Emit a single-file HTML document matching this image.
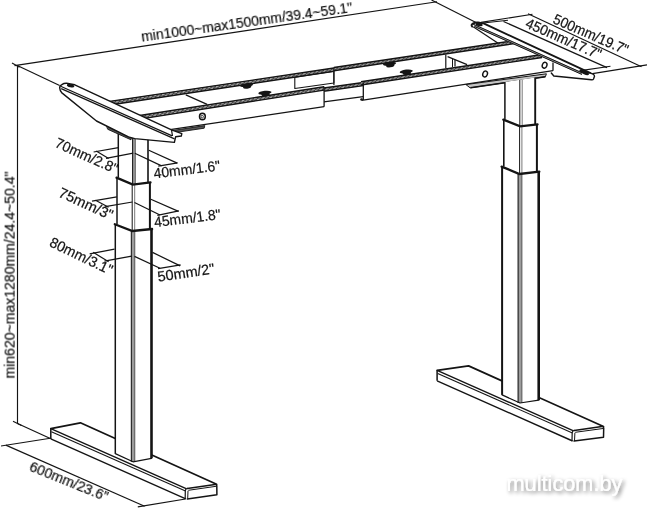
<!DOCTYPE html>
<html lang="en">
<head>
<meta charset="utf-8">
<title>Desk frame dimensions</title>
<style>
html,body{margin:0;padding:0;background:#fff;}
body{width:647px;height:508px;overflow:hidden;}
svg{display:block;}
svg text{font-family:"Liberation Sans","DejaVu Sans",sans-serif;}
</style>
</head>
<body>
<svg width="647" height="508" viewBox="0 0 647 508">
<defs>
<filter id="wm" x="-10%" y="-40%" width="125%" height="200%">
<feGaussianBlur in="SourceAlpha" stdDeviation="2.2" result="b"/>
<feOffset in="b" dx="1.5" dy="2" result="o"/>
<feComponentTransfer in="o" result="s"><feFuncA type="linear" slope="0.55"/></feComponentTransfer>
<feMerge><feMergeNode in="s"/><feMergeNode in="SourceGraphic"/></feMerge>
</filter>
</defs>
<rect width="647" height="508" fill="#fff"/>
<line x1="14.5" y1="65.6" x2="437.0" y2="1.8" stroke="#141414" stroke-width="1.15" stroke-linecap="butt"/>
<line x1="12.0" y1="63.0" x2="19.5" y2="67.2" stroke="#141414" stroke-width="1.15" stroke-linecap="butt"/>
<line x1="17.5" y1="65.2" x2="17.5" y2="423.5" stroke="#141414" stroke-width="1.15" stroke-linecap="butt"/>
<line x1="13.0" y1="421.3" x2="21.5" y2="425.6" stroke="#141414" stroke-width="1.15" stroke-linecap="butt"/>
<line x1="17.3" y1="65.6" x2="59.6" y2="85.6" stroke="#141414" stroke-width="1.15" stroke-linecap="butt"/>
<line x1="431.5" y1="0.0" x2="476.5" y2="22.8" stroke="#141414" stroke-width="1.15" stroke-linecap="butt"/>
<line x1="17.5" y1="423.5" x2="50.3" y2="438.6" stroke="#141414" stroke-width="1.15" stroke-linecap="butt"/>
<line x1="1.0" y1="446.0" x2="50.3" y2="438.3" stroke="#141414" stroke-width="1.15" stroke-linecap="butt"/>
<line x1="5.8" y1="445.1" x2="144.6" y2="506.3" stroke="#141414" stroke-width="1.15" stroke-linecap="butt"/>
<line x1="137.8" y1="506.9" x2="185.5" y2="499.0" stroke="#141414" stroke-width="1.15" stroke-linecap="butt"/>
<line x1="481.0" y1="22.4" x2="532.5" y2="14.2" stroke="#141414" stroke-width="1.15" stroke-linecap="butt"/>
<line x1="528.0" y1="13.8" x2="641.5" y2="66.8" stroke="#141414" stroke-width="1.15" stroke-linecap="butt"/>
<line x1="592.5" y1="73.6" x2="647.0" y2="64.8" stroke="#141414" stroke-width="1.15" stroke-linecap="butt"/>
<line x1="483.0" y1="23.0" x2="508.0" y2="20.2" stroke="#141414" stroke-width="1.15" stroke-linecap="butt"/>
<line x1="503.5" y1="21.5" x2="607.0" y2="67.6" stroke="#141414" stroke-width="1.15" stroke-linecap="butt"/>
<line x1="580.5" y1="70.6" x2="610.5" y2="66.3" stroke="#141414" stroke-width="1.15" stroke-linecap="butt"/>
<line x1="472.4" y1="26.2" x2="498.5" y2="43.4" stroke="#141414" stroke-width="1.20" stroke-linecap="butt"/>
<polygon points="294.8,77.2 294.8,88.5 333.9,83.0 333.9,71.3" fill="#fff" stroke="#141414" stroke-width="1.10" stroke-linejoin="round" stroke-linecap="round"/>
<polygon points="108.0,101.6 333.9,68.0 333.9,71.3 108.0,105.3" fill="#4a4a4a" stroke="none" stroke-width="0.00" stroke-linejoin="round" stroke-linecap="round"/>
<line x1="108.0" y1="102.6" x2="333.9" y2="68.9" stroke="#e4e4e4" stroke-width="0.75" stroke-dasharray="2.6 1.6"/>
<line x1="108.0" y1="104.3" x2="333.9" y2="70.4" stroke="#e4e4e4" stroke-width="0.75" stroke-dasharray="2.6 1.6" stroke-dashoffset="1.4"/>
<line x1="108.0" y1="101.6" x2="333.9" y2="68.0" stroke="#141414" stroke-width="1.40" stroke-linecap="butt"/>
<line x1="108.0" y1="105.3" x2="333.9" y2="71.3" stroke="#141414" stroke-width="1.40" stroke-linecap="butt"/>
<polygon points="333.9,67.5 516.0,40.3 516.0,43.3 333.9,70.8" fill="#4a4a4a" stroke="none" stroke-width="0.00" stroke-linejoin="round" stroke-linecap="round"/>
<line x1="333.9" y1="68.4" x2="516.0" y2="41.2" stroke="#e4e4e4" stroke-width="0.75" stroke-dasharray="2.6 1.6"/>
<line x1="333.9" y1="69.9" x2="516.0" y2="42.5" stroke="#e4e4e4" stroke-width="0.75" stroke-dasharray="2.6 1.6" stroke-dashoffset="1.4"/>
<line x1="333.9" y1="67.5" x2="516.0" y2="40.3" stroke="#141414" stroke-width="1.40" stroke-linecap="butt"/>
<line x1="333.9" y1="70.8" x2="516.0" y2="43.3" stroke="#141414" stroke-width="1.40" stroke-linecap="butt"/>
<line x1="333.9" y1="67.5" x2="333.9" y2="85.0" stroke="#141414" stroke-width="1.20" stroke-linecap="butt"/>
<line x1="185.8" y1="94.9" x2="207.1" y2="104.4" stroke="#141414" stroke-width="1.20" stroke-linecap="butt"/>
<line x1="445.8" y1="54.4" x2="445.8" y2="68.2" stroke="#141414" stroke-width="1.20" stroke-linecap="butt"/>
<line x1="447.6" y1="56.6" x2="467.1" y2="64.6" stroke="#141414" stroke-width="1.20" stroke-linecap="butt"/>
<line x1="455.0" y1="59.8" x2="455.0" y2="66.5" stroke="#141414" stroke-width="1.20" stroke-linecap="butt"/>
<line x1="452.5" y1="58.8" x2="452.5" y2="67.0" stroke="#141414" stroke-width="1.00" stroke-linecap="butt"/>
<polygon points="322.0,88.3 365.0,82.2 365.0,96.4 322.0,102.2" fill="#fff" stroke="none" stroke-width="0.00" stroke-linejoin="round" stroke-linecap="round"/>
<polygon points="322.0,88.3 365.0,82.2 365.0,85.4 322.0,91.5" fill="#4a4a4a" stroke="none" stroke-width="0.00" stroke-linejoin="round" stroke-linecap="round"/>
<line x1="322.0" y1="89.2" x2="365.0" y2="83.0" stroke="#e4e4e4" stroke-width="0.75" stroke-dasharray="2.6 1.6"/>
<line x1="322.0" y1="90.6" x2="365.0" y2="84.5" stroke="#e4e4e4" stroke-width="0.75" stroke-dasharray="2.6 1.6" stroke-dashoffset="1.4"/>
<line x1="322.0" y1="88.3" x2="365.0" y2="82.2" stroke="#141414" stroke-width="1.40" stroke-linecap="butt"/>
<line x1="322.0" y1="91.5" x2="365.0" y2="85.4" stroke="#141414" stroke-width="1.40" stroke-linecap="butt"/>
<line x1="322.0" y1="102.2" x2="365.0" y2="96.4" stroke="#141414" stroke-width="1.20" stroke-linecap="butt"/>
<polygon points="140.0,115.5 324.1,86.8 324.1,106.7 140.0,134.1" fill="#fff" stroke="none" stroke-width="0.00" stroke-linejoin="round" stroke-linecap="round"/>
<polygon points="138.0,115.8 324.1,86.8 324.1,90.1 138.0,119.4" fill="#4a4a4a" stroke="none" stroke-width="0.00" stroke-linejoin="round" stroke-linecap="round"/>
<line x1="138.0" y1="116.8" x2="324.1" y2="87.7" stroke="#e4e4e4" stroke-width="0.75" stroke-dasharray="2.6 1.6"/>
<line x1="138.0" y1="118.4" x2="324.1" y2="89.2" stroke="#e4e4e4" stroke-width="0.75" stroke-dasharray="2.6 1.6" stroke-dashoffset="1.4"/>
<line x1="138.0" y1="115.8" x2="324.1" y2="86.8" stroke="#141414" stroke-width="1.40" stroke-linecap="butt"/>
<line x1="138.0" y1="119.4" x2="324.1" y2="90.1" stroke="#141414" stroke-width="1.40" stroke-linecap="butt"/>
<line x1="324.1" y1="86.8" x2="324.1" y2="106.7" stroke="#141414" stroke-width="1.30" stroke-linecap="butt"/>
<line x1="165.0" y1="130.4" x2="324.1" y2="106.7" stroke="#141414" stroke-width="1.30" stroke-linecap="butt"/>
<polygon points="168.0,131.2 204.8,125.6 204.2,128.2 168.0,133.6" fill="#555" stroke="#141414" stroke-width="0.90" stroke-linejoin="round" stroke-linecap="round"/>
<ellipse cx="202.4" cy="116.5" rx="2.9" ry="3.3" fill="#fff" stroke="#141414" stroke-width="1.5"/>
<ellipse cx="202.2" cy="116.7" rx="1.2" ry="1.4" fill="none" stroke="#141414" stroke-width="0.8"/>
<polygon points="363.3,81.4 553.0,56.9 553.0,70.7 363.3,100.0" fill="#fff" stroke="none" stroke-width="0.00" stroke-linejoin="round" stroke-linecap="round"/>
<polygon points="361.0,81.7 542.0,54.5 542.0,57.5 361.0,85.0" fill="#4a4a4a" stroke="none" stroke-width="0.00" stroke-linejoin="round" stroke-linecap="round"/>
<line x1="361.0" y1="82.6" x2="542.0" y2="55.3" stroke="#e4e4e4" stroke-width="0.75" stroke-dasharray="2.6 1.6"/>
<line x1="361.0" y1="84.1" x2="542.0" y2="56.7" stroke="#e4e4e4" stroke-width="0.75" stroke-dasharray="2.6 1.6" stroke-dashoffset="1.4"/>
<line x1="361.0" y1="81.7" x2="542.0" y2="54.5" stroke="#141414" stroke-width="1.40" stroke-linecap="butt"/>
<line x1="361.0" y1="85.0" x2="542.0" y2="57.5" stroke="#141414" stroke-width="1.40" stroke-linecap="butt"/>
<line x1="363.3" y1="82.4" x2="363.3" y2="100.0" stroke="#141414" stroke-width="1.30" stroke-linecap="butt"/>
<line x1="361.5" y1="100.3" x2="553.0" y2="70.7" stroke="#141414" stroke-width="1.30" stroke-linecap="butt"/>
<line x1="553.0" y1="62.5" x2="553.0" y2="70.7" stroke="#141414" stroke-width="1.30" stroke-linecap="butt"/>
<ellipse cx="361.6" cy="99.4" rx="1.4" ry="1.2" fill="#141414"/>
<ellipse cx="485.1" cy="74.0" rx="2.3" ry="3.0" transform="rotate(20 485.1 74.0)" fill="#fff" stroke="#141414" stroke-width="1.4"/>
<ellipse cx="544.6" cy="65.2" rx="2.3" ry="3.0" transform="rotate(20 544.6 65.2)" fill="#fff" stroke="#141414" stroke-width="1.4"/>
<polygon points="466.3,84.5 546.4,73.8 545.4,76.7 470.5,87.8" fill="#c4c4c4" stroke="#141414" stroke-width="1.00" stroke-linejoin="round" stroke-linecap="round"/>
<line x1="470.5" y1="87.8" x2="545.4" y2="76.7" stroke="#141414" stroke-width="1.50" stroke-linecap="butt"/>
<ellipse cx="246.5" cy="85.1" rx="6.6" ry="1.9" transform="rotate(-6 246.5 85.6)" fill="#141414"/>
<ellipse cx="247.0" cy="86.8" rx="4.2" ry="1.9" transform="rotate(-6 246.5 85.6)" fill="#141414"/>
<ellipse cx="265.0" cy="92.7" rx="6.6" ry="1.9" transform="rotate(-6 265.0 93.2)" fill="#141414"/>
<ellipse cx="265.5" cy="94.4" rx="4.2" ry="1.9" transform="rotate(-6 265.0 93.2)" fill="#141414"/>
<ellipse cx="389.6" cy="63.8" rx="6.6" ry="1.9" transform="rotate(-6 389.6 64.3)" fill="#141414"/>
<ellipse cx="390.1" cy="65.5" rx="4.2" ry="1.9" transform="rotate(-6 389.6 64.3)" fill="#141414"/>
<ellipse cx="406.3" cy="71.5" rx="6.6" ry="1.9" transform="rotate(-6 406.3 72.0)" fill="#141414"/>
<ellipse cx="406.8" cy="73.2" rx="4.2" ry="1.9" transform="rotate(-6 406.3 72.0)" fill="#141414"/>
<polygon points="50.8,428.7 80.4,422.8 216.6,484.3 216.9,494.7 185.8,498.8 50.8,438.9" fill="#fff" stroke="none" stroke-width="0.00" stroke-linejoin="round" stroke-linecap="round"/>
<polyline points="50.8,428.7 80.4,422.8 216.6,484.3" fill="none" stroke="#141414" stroke-width="1.70" stroke-linejoin="round" stroke-linecap="round"/>
<line x1="50.8" y1="428.7" x2="186.1" y2="488.6" stroke="#141414" stroke-width="1.40" stroke-linecap="butt"/>
<line x1="51.4" y1="431.7" x2="185.5" y2="491.0" stroke="#141414" stroke-width="1.10" stroke-linecap="butt"/>
<line x1="50.8" y1="428.7" x2="50.8" y2="438.9" stroke="#141414" stroke-width="1.50" stroke-linecap="butt"/>
<line x1="50.8" y1="438.9" x2="185.8" y2="498.8" stroke="#141414" stroke-width="1.40" stroke-linecap="butt"/>
<path d="M187.3 488.4 L215.0 484.4 Q216.8 484.2 216.8 486.1 L216.9 494.7 L187.3 498.9" fill="none" stroke="#141414" stroke-width="1.50" stroke-linejoin="round" stroke-linecap="round"/>
<path d="M187.3 488.4 Q185.5 488.8 185.3 490.6 L185.2 498.4" fill="none" stroke="#141414" stroke-width="1.20" stroke-linejoin="round" stroke-linecap="round"/>
<line x1="188.0" y1="490.8" x2="187.7" y2="498.8" stroke="#141414" stroke-width="1.00" stroke-linecap="butt"/>
<line x1="188.3" y1="490.3" x2="216.1" y2="486.3" stroke="#141414" stroke-width="1.00" stroke-linecap="butt"/>
<polygon points="437.1,370.4 468.6,365.9 603.5,426.5 603.5,437.2 572.6,441.0 437.1,380.8" fill="#fff" stroke="none" stroke-width="0.00" stroke-linejoin="round" stroke-linecap="round"/>
<polyline points="437.1,370.4 468.6,365.9 603.5,426.5" fill="none" stroke="#141414" stroke-width="1.70" stroke-linejoin="round" stroke-linecap="round"/>
<line x1="437.1" y1="370.4" x2="573.0" y2="430.6" stroke="#141414" stroke-width="1.40" stroke-linecap="butt"/>
<line x1="437.7" y1="373.4" x2="572.4" y2="433.0" stroke="#141414" stroke-width="1.10" stroke-linecap="butt"/>
<line x1="437.1" y1="370.4" x2="437.1" y2="380.8" stroke="#141414" stroke-width="1.50" stroke-linecap="butt"/>
<line x1="437.1" y1="380.8" x2="572.6" y2="441.0" stroke="#141414" stroke-width="1.40" stroke-linecap="butt"/>
<path d="M574.2 430.4 L601.9 426.6 Q603.7 426.4 603.7 428.3 L603.5 437.2 L574.1 441.1" fill="none" stroke="#141414" stroke-width="1.50" stroke-linejoin="round" stroke-linecap="round"/>
<path d="M574.2 430.4 Q572.4 430.8 572.2 432.6 L572.0 440.6" fill="none" stroke="#141414" stroke-width="1.20" stroke-linejoin="round" stroke-linecap="round"/>
<line x1="574.9" y1="432.8" x2="574.5" y2="441.0" stroke="#141414" stroke-width="1.00" stroke-linecap="butt"/>
<line x1="575.2" y1="432.3" x2="603.0" y2="428.5" stroke="#141414" stroke-width="1.00" stroke-linecap="butt"/>
<polygon points="118.3,130.0 118.3,177.6 117.0,177.6 117.0,224.2 115.3,224.2 115.3,453.6 131.0,461.8 151.5,458.3 151.5,229.0 149.9,229.0 149.9,182.3 148.0,182.3 148.0,139.0" fill="#fff" stroke="none" stroke-width="0.00" stroke-linejoin="round" stroke-linecap="round"/>
<polygon points="132.3,134.0 135.5,134.0 135.5,184.6 132.3,184.6" fill="#9c9c9c" stroke="none" stroke-width="0.00" stroke-linejoin="round" stroke-linecap="round"/>
<line x1="132.6" y1="134.0" x2="132.6" y2="184.6" stroke="#141414" stroke-width="1.00" stroke-linecap="butt"/>
<line x1="135.3" y1="134.0" x2="135.3" y2="184.6" stroke="#4a4a4a" stroke-width="0.80" stroke-linecap="butt"/>
<line x1="118.3" y1="130.0" x2="118.3" y2="177.6" stroke="#141414" stroke-width="1.50" stroke-linecap="butt"/>
<line x1="148.0" y1="139.0" x2="148.0" y2="182.3" stroke="#141414" stroke-width="1.60" stroke-linecap="butt"/>
<line x1="132.2" y1="184.6" x2="132.2" y2="231.0" stroke="#141414" stroke-width="1.00" stroke-linecap="butt"/>
<line x1="134.7" y1="184.6" x2="134.7" y2="231.0" stroke="#555" stroke-width="0.80" stroke-linecap="butt"/>
<line x1="117.0" y1="177.6" x2="117.0" y2="224.2" stroke="#141414" stroke-width="1.50" stroke-linecap="butt"/>
<line x1="149.9" y1="182.3" x2="149.9" y2="229.0" stroke="#141414" stroke-width="2.00" stroke-linecap="butt"/>
<polygon points="131.0,231.0 135.0,231.0 135.0,461.8 131.0,461.8" fill="#9c9c9c" stroke="none" stroke-width="0.00" stroke-linejoin="round" stroke-linecap="round"/>
<line x1="131.3" y1="231.0" x2="131.3" y2="461.8" stroke="#141414" stroke-width="1.00" stroke-linecap="butt"/>
<line x1="134.8" y1="231.0" x2="134.8" y2="461.8" stroke="#4a4a4a" stroke-width="0.80" stroke-linecap="butt"/>
<line x1="115.3" y1="224.2" x2="115.3" y2="453.6" stroke="#141414" stroke-width="1.50" stroke-linecap="butt"/>
<line x1="151.5" y1="229.0" x2="151.5" y2="458.3" stroke="#141414" stroke-width="2.60" stroke-linecap="butt"/>
<polyline points="116.5,177.6 132.8,184.6 150.5,182.3" fill="none" stroke="#141414" stroke-width="2.30" stroke-linejoin="miter" stroke-linecap="round"/>
<polyline points="114.8,224.2 132.4,231.0 152.1,229.0" fill="none" stroke="#141414" stroke-width="2.30" stroke-linejoin="miter" stroke-linecap="round"/>
<polyline points="115.3,453.6 133.0,461.8 151.5,458.3" fill="none" stroke="#141414" stroke-width="1.20" stroke-linejoin="round" stroke-linecap="round"/>
<polygon points="504.9,82.0 504.9,119.6 503.8,119.6 503.8,166.6 502.1,166.6 502.1,394.9 517.8,403.0 538.7,400.2 538.7,171.6 536.9,171.6 536.9,124.3 535.2,124.3 535.2,77.5" fill="#fff" stroke="none" stroke-width="0.00" stroke-linejoin="round" stroke-linecap="round"/>
<line x1="519.8" y1="80.0" x2="519.8" y2="126.4" stroke="#141414" stroke-width="1.00" stroke-linecap="butt"/>
<line x1="522.2" y1="80.0" x2="522.2" y2="126.4" stroke="#555" stroke-width="0.80" stroke-linecap="butt"/>
<line x1="504.9" y1="82.0" x2="504.9" y2="119.6" stroke="#141414" stroke-width="1.50" stroke-linecap="butt"/>
<line x1="535.2" y1="77.5" x2="535.2" y2="124.3" stroke="#141414" stroke-width="1.90" stroke-linecap="butt"/>
<line x1="519.6" y1="126.4" x2="519.6" y2="174.0" stroke="#141414" stroke-width="1.00" stroke-linecap="butt"/>
<line x1="521.9" y1="126.4" x2="521.9" y2="174.0" stroke="#555" stroke-width="0.80" stroke-linecap="butt"/>
<line x1="503.8" y1="119.6" x2="503.8" y2="166.6" stroke="#141414" stroke-width="1.60" stroke-linecap="butt"/>
<line x1="536.9" y1="124.3" x2="536.9" y2="171.6" stroke="#141414" stroke-width="2.00" stroke-linecap="butt"/>
<polygon points="517.8,174.0 522.1,174.0 522.1,403.0 517.8,403.0" fill="#9c9c9c" stroke="none" stroke-width="0.00" stroke-linejoin="round" stroke-linecap="round"/>
<line x1="518.1" y1="174.0" x2="518.1" y2="403.0" stroke="#141414" stroke-width="1.00" stroke-linecap="butt"/>
<line x1="521.9" y1="174.0" x2="521.9" y2="403.0" stroke="#4a4a4a" stroke-width="0.80" stroke-linecap="butt"/>
<line x1="502.1" y1="166.6" x2="502.1" y2="394.9" stroke="#141414" stroke-width="2.00" stroke-linecap="butt"/>
<line x1="538.7" y1="171.6" x2="538.7" y2="400.2" stroke="#141414" stroke-width="2.60" stroke-linecap="butt"/>
<polyline points="503.3,119.6 520.1,126.4 537.5,124.3" fill="none" stroke="#141414" stroke-width="2.30" stroke-linejoin="miter" stroke-linecap="round"/>
<polyline points="501.6,166.6 519.4,174.0 539.3,171.6" fill="none" stroke="#141414" stroke-width="2.30" stroke-linejoin="miter" stroke-linecap="round"/>
<polyline points="502.1,394.9 520.0,403.0 538.7,400.2" fill="none" stroke="#141414" stroke-width="1.20" stroke-linejoin="round" stroke-linecap="round"/>
<line x1="93.6" y1="152.0" x2="118.4" y2="147.6" stroke="#141414" stroke-width="1.20" stroke-linecap="butt"/>
<line x1="106.0" y1="158.3" x2="133.2" y2="153.2" stroke="#141414" stroke-width="1.20" stroke-linecap="butt"/>
<line x1="96.2" y1="150.9" x2="108.6" y2="158.4" stroke="#141414" stroke-width="1.20" stroke-linecap="butt"/>
<line x1="134.8" y1="153.2" x2="161.6" y2="165.9" stroke="#141414" stroke-width="1.20" stroke-linecap="butt"/>
<line x1="148.8" y1="150.2" x2="177.2" y2="163.1" stroke="#141414" stroke-width="1.20" stroke-linecap="butt"/>
<line x1="158.3" y1="166.2" x2="177.6" y2="162.8" stroke="#141414" stroke-width="1.20" stroke-linecap="butt"/>
<line x1="92.0" y1="201.2" x2="116.9" y2="196.9" stroke="#141414" stroke-width="1.20" stroke-linecap="butt"/>
<line x1="105.2" y1="206.7" x2="132.4" y2="202.0" stroke="#141414" stroke-width="1.20" stroke-linecap="butt"/>
<line x1="95.5" y1="200.2" x2="108.6" y2="207.3" stroke="#141414" stroke-width="1.20" stroke-linecap="butt"/>
<line x1="134.5" y1="202.5" x2="160.0" y2="215.0" stroke="#141414" stroke-width="1.20" stroke-linecap="butt"/>
<line x1="150.8" y1="199.3" x2="178.5" y2="211.4" stroke="#141414" stroke-width="1.20" stroke-linecap="butt"/>
<line x1="157.3" y1="215.4" x2="178.8" y2="210.8" stroke="#141414" stroke-width="1.20" stroke-linecap="butt"/>
<line x1="89.7" y1="253.8" x2="114.5" y2="249.1" stroke="#141414" stroke-width="1.20" stroke-linecap="butt"/>
<line x1="104.4" y1="261.2" x2="131.7" y2="256.1" stroke="#141414" stroke-width="1.20" stroke-linecap="butt"/>
<line x1="93.2" y1="252.3" x2="108.6" y2="261.8" stroke="#141414" stroke-width="1.20" stroke-linecap="butt"/>
<line x1="134.5" y1="256.4" x2="160.0" y2="268.3" stroke="#141414" stroke-width="1.20" stroke-linecap="butt"/>
<line x1="152.5" y1="252.4" x2="180.2" y2="265.9" stroke="#141414" stroke-width="1.20" stroke-linecap="butt"/>
<line x1="158.1" y1="268.6" x2="180.6" y2="264.8" stroke="#141414" stroke-width="1.20" stroke-linecap="butt"/>
<polygon points="106.6,125.6 131.5,137.2 131.0,139.8 108.0,129.4" fill="#555" stroke="#141414" stroke-width="0.90" stroke-linejoin="round" stroke-linecap="round"/>
<path d="M59.8 88.4 Q59.2 86.0 61.8 84.6 Q64 83.2 66.5 83.3 L74.8 84.8 L171.5 129.8 L181.8 133.6 L181.3 136.0 L175.6 136.8 L174.4 142.4 L134.7 138.6 L128.5 136.8 L96.5 121.0 L61.6 92.6 Q60.0 91.0 59.8 88.4 Z" fill="#fff" stroke="#141414" stroke-width="1.40" stroke-linejoin="round" stroke-linecap="round"/>
<line x1="60.6" y1="86.2" x2="172.2" y2="135.9" stroke="#141414" stroke-width="1.20" stroke-linecap="butt"/>
<line x1="61.2" y1="88.6" x2="174.5" y2="138.9" stroke="#141414" stroke-width="1.20" stroke-linecap="butt"/>
<line x1="171.5" y1="129.8" x2="172.5" y2="136.0" stroke="#141414" stroke-width="1.20" stroke-linecap="butt"/>
<ellipse cx="70.6" cy="85.7" rx="3.8" ry="1.6" transform="rotate(12 70.6 85.7)" fill="#141414"/>
<polygon points="471.4,24.6 475.0,22.6 483.6,23.4 591.5,73.6 594.4,76.0 593.2,79.6 581.0,78.6 581.0,73.2 477.4,26.9 472.2,26.4" fill="#fff" stroke="none" stroke-width="0.00" stroke-linejoin="round" stroke-linecap="round"/>
<path d="M590.0 72.9 Q594.6 74.4 594.5 76.2 L593.5 79.0 Q593.0 80.0 591.5 79.8 L553.8 76.0 L551.3 73.0" fill="none" stroke="#141414" stroke-width="1.40" stroke-linejoin="round" stroke-linecap="round"/>
<path d="M472.2 26.6 Q470.6 24.8 473.2 23.4 Q475.4 22.2 478 22.5 L483.6 23.4 L590.0 72.9" fill="none" stroke="#141414" stroke-width="1.90" stroke-linejoin="round" stroke-linecap="round"/>
<line x1="474.0" y1="25.4" x2="582.0" y2="73.6" stroke="#9a9a9a" stroke-width="2.20" stroke-linecap="butt"/>
<line x1="473.0" y1="24.1" x2="582.0" y2="72.8" stroke="#141414" stroke-width="1.00" stroke-linecap="butt"/>
<line x1="474.5" y1="26.5" x2="582.0" y2="74.5" stroke="#141414" stroke-width="1.00" stroke-linecap="butt"/>
<ellipse cx="479.2" cy="24.5" rx="3.6" ry="1.6" transform="rotate(14 479.2 24.5)" fill="#141414"/>
<ellipse cx="584.2" cy="72.2" rx="5.2" ry="1.9" transform="rotate(25 584.2 72.2)" fill="#141414"/>
<g opacity="0.99" stroke="#111" stroke-width="0.22">
<text x="0" y="0" transform="translate(142.0 41.7) rotate(-8.00)" font-size="14.5" textLength="213.0" lengthAdjust="spacingAndGlyphs" fill="#141414" >min1000~max1500mm/39.4~59.1&quot;</text>
<text x="0" y="0" transform="translate(14.6 378.5) rotate(-90.00)" font-size="14.5" textLength="207.0" lengthAdjust="spacingAndGlyphs" fill="#141414" >min620~max1280mm/24.4~50.4&quot;</text>
<text x="0" y="0" transform="translate(54.0 146.5) rotate(24.30)" font-size="14.5" textLength="67.0" lengthAdjust="spacingAndGlyphs" fill="#141414" >70mm/2.8&quot;</text>
<text x="0" y="0" transform="translate(57.5 196.2) rotate(24.50)" font-size="14.5" textLength="58.0" lengthAdjust="spacingAndGlyphs" fill="#141414" >75mm/3&quot;</text>
<text x="0" y="0" transform="translate(48.4 245.8) rotate(25.50)" font-size="14.5" textLength="68.0" lengthAdjust="spacingAndGlyphs" fill="#141414" >80mm/3.1&quot;</text>
<text x="0" y="0" transform="translate(154.2 178.5) rotate(-7.00)" font-size="14.5" textLength="67.0" lengthAdjust="spacingAndGlyphs" fill="#141414" >40mm/1.6&quot;</text>
<text x="0" y="0" transform="translate(154.7 227.2) rotate(-7.00)" font-size="14.5" textLength="67.0" lengthAdjust="spacingAndGlyphs" fill="#141414" >45mm/1.8&quot;</text>
<text x="0" y="0" transform="translate(158.3 281.8) rotate(-8.50)" font-size="14.5" textLength="57.5" lengthAdjust="spacingAndGlyphs" fill="#141414" >50mm/2&quot;</text>
<text x="0" y="0" transform="translate(28.4 470.4) rotate(22.00)" font-size="14.5" textLength="83.5" lengthAdjust="spacingAndGlyphs" fill="#141414" >600mm/23.6&quot;</text>
<text x="0" y="0" transform="translate(552.0 22.7) rotate(23.60)" font-size="14.5" textLength="80.5" lengthAdjust="spacingAndGlyphs" fill="#141414" >500mm/19.7&quot;</text>
<text x="0" y="0" transform="translate(524.5 26.9) rotate(23.70)" font-size="14.5" textLength="81.0" lengthAdjust="spacingAndGlyphs" fill="#141414" >450mm/17.7&quot;</text>
</g>
<text x="506.5" y="490.8" font-size="21.5" textLength="116" lengthAdjust="spacingAndGlyphs" fill="#ffffff" style="filter:url(#wm)">multicom.by</text>
</svg>
</body>
</html>
